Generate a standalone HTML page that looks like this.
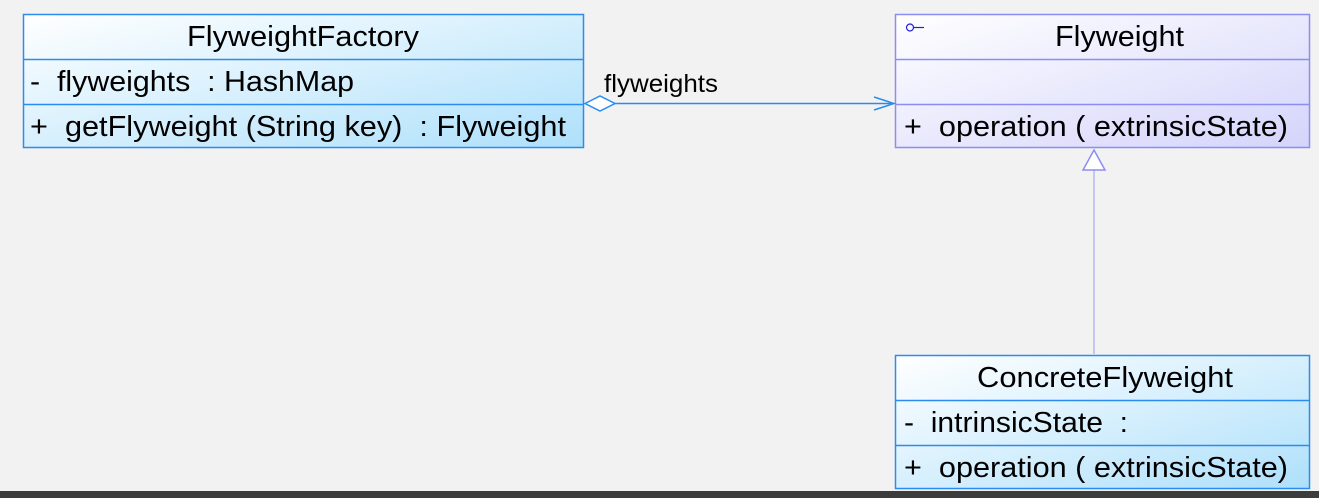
<!DOCTYPE html>
<html><head><meta charset="utf-8"><style>
html,body{margin:0;padding:0;background:#f2f2f2;}
svg{display:block;font-family:"Liberation Sans",Arial,sans-serif;}
</style></head><body>
<svg width="1319" height="498" viewBox="0 0 1319 498" xmlns="http://www.w3.org/2000/svg">
<defs>
<linearGradient id="gb" x1="0" y1="0" x2="1" y2="1">
<stop offset="0" stop-color="#ffffff"/><stop offset="1" stop-color="#aee0fb"/></linearGradient>
<linearGradient id="gp" x1="0" y1="0" x2="1" y2="1">
<stop offset="0" stop-color="#ffffff"/><stop offset="1" stop-color="#d4d4fb"/></linearGradient>
</defs>
<rect width="1319" height="498" fill="#f2f2f2"/>
<!-- Factory -->
<rect x="23.5" y="14.5" width="560" height="133" fill="url(#gb)" stroke="#2a8cf0" stroke-width="1.5"/>
<line x1="23" y1="59.5" x2="584" y2="59.5" stroke="#2a8cf0" stroke-width="1.5"/>
<line x1="23" y1="104.5" x2="584" y2="104.5" stroke="#2a8cf0" stroke-width="1.5"/>
<text x="187" y="46" font-size="29" textLength="232" lengthAdjust="spacingAndGlyphs" fill="#000">FlyweightFactory</text>
<text x="30" y="91" font-size="29" textLength="324" lengthAdjust="spacingAndGlyphs" fill="#000" xml:space="preserve">-  flyweights  : HashMap</text>
<text x="30" y="136" font-size="29" textLength="536" lengthAdjust="spacingAndGlyphs" fill="#000" xml:space="preserve">+  getFlyweight (String key)  : Flyweight</text>
<!-- Flyweight -->
<rect x="895.5" y="14.5" width="414" height="133" fill="url(#gp)" stroke="#8c8cf5" stroke-width="1.5"/>
<line x1="895" y1="59.5" x2="1310" y2="59.5" stroke="#8c8cf5" stroke-width="1.5"/>
<line x1="895" y1="104.5" x2="1310" y2="104.5" stroke="#8c8cf5" stroke-width="1.5"/>
<circle cx="910" cy="27.5" r="3.5" fill="none" stroke="#2020e0" stroke-width="1.2"/>
<line x1="914" y1="27.5" x2="924" y2="27.5" stroke="#2020e0" stroke-width="1.2"/>
<text x="1055" y="46" font-size="29" textLength="129" lengthAdjust="spacingAndGlyphs" fill="#000">Flyweight</text>
<text x="904" y="136" font-size="29" textLength="384" lengthAdjust="spacingAndGlyphs" fill="#000" xml:space="preserve">+  operation ( extrinsicState)</text>
<!-- Concrete -->
<rect x="895.5" y="355.5" width="414" height="133" fill="url(#gb)" stroke="#2a8cf0" stroke-width="1.5"/>
<line x1="895" y1="400.5" x2="1310" y2="400.5" stroke="#2a8cf0" stroke-width="1.5"/>
<line x1="895" y1="445.5" x2="1310" y2="445.5" stroke="#2a8cf0" stroke-width="1.5"/>
<text x="977" y="387" font-size="29" textLength="256" lengthAdjust="spacingAndGlyphs" fill="#000">ConcreteFlyweight</text>
<text x="904" y="432" font-size="29" textLength="224" lengthAdjust="spacingAndGlyphs" fill="#000" xml:space="preserve">-  intrinsicState  :</text>
<text x="904" y="477" font-size="29" textLength="384" lengthAdjust="spacingAndGlyphs" fill="#000" xml:space="preserve">+  operation ( extrinsicState)</text>
<!-- association -->
<line x1="615" y1="103.5" x2="894" y2="103.5" stroke="#2a8cf0" stroke-width="1.5"/>
<polygon points="585,103.5 600,96 615,103.5 600,111" fill="#fff" stroke="#2a8cf0" stroke-width="1.5"/>
<polyline points="874,97 894,103.5 874,110" fill="none" stroke="#2a8cf0" stroke-width="1.5"/>
<text x="604" y="92" font-size="25" textLength="114" lengthAdjust="spacingAndGlyphs" fill="#000">flyweights</text>
<!-- generalization -->
<line x1="1094" y1="170" x2="1094" y2="354" stroke="#b8b8ee" stroke-width="1.5"/>
<polygon points="1094,150 1105,170 1083,170" fill="#fff" stroke="#8c8cf5" stroke-width="1.5"/>
<!-- bottom bar -->
<rect x="0" y="491" width="1319" height="7" fill="#3c3c3c"/>
</svg>
</body></html>
